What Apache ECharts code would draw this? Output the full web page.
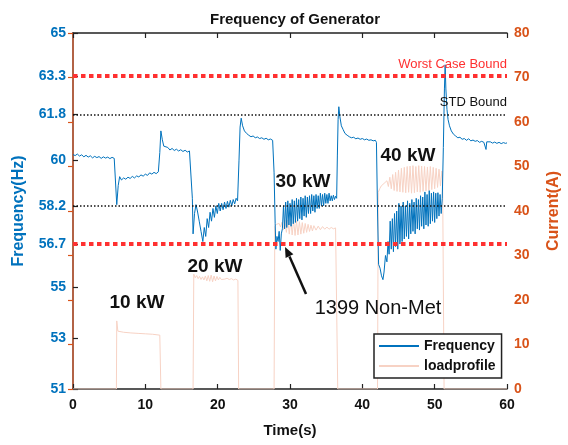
<!DOCTYPE html>
<html>
<head>
<meta charset="utf-8">
<script src="https://cdn.jsdelivr.net/npm/echarts@6/dist/echarts.min.js"></script>
<style>
html,body{margin:0;padding:0;background:#fff;}
#chart{width:568px;height:445px;}
</style>
</head>
<body>
<div id="chart"></div>
<script>
// ---- Data ----
const timeTicks = [0, 10, 20, 30, 40, 50, 60];
const freqTicks = [51, 53, 55, 56.7, 58.2, 60, 61.8, 63.3, 65];
const currentTicks = [0, 10, 20, 30, 40, 50, 60, 70, 80];
const worstCaseBounds = [63.3, 56.7];
const stdBounds = [61.8, 58.2];

// [time (s), frequency (Hz)]
const frequency = [
  [0,60.22],[0.3,60.18],[0.6,60.24],[0.9,60.16],[1.2,60.21],[1.5,60.13],[1.8,60.19],[2.1,60.12],[2.4,60.17],[2.7,60.09],
  [3.0,60.15],[3.3,60.1],[3.6,60.14],[3.9,60.07],[4.2,60.13],[4.5,60.08],[4.8,60.12],[5.1,60.06],[5.4,60.11],[5.7,60.07],[5.95,60.1],
  [6.05,58.25],[6.25,59.0],[6.45,59.35],[6.7,59.22],[7.0,59.3],[7.3,59.25],[7.6,59.33],[7.9,59.28],[8.2,59.36],[8.5,59.3],
  [8.8,59.38],[9.1,59.34],[9.4,59.42],[9.7,59.37],[10.0,59.45],[10.3,59.4],[10.6,59.5],[10.9,59.45],[11.2,59.52],[11.5,59.47],[11.8,59.54],
  [12.0,60.3],[12.15,61.15],[12.35,60.8],[12.55,60.55],[12.8,60.48],[13.1,60.5],[13.4,60.4],[13.7,60.46],[14.0,60.38],[14.3,60.43],
  [14.6,60.36],[14.9,60.41],[15.2,60.34],[15.5,60.39],[15.8,60.32],[16.1,60.36],[16.35,60.3],
  [16.5,58.5],[16.6,57.1],[16.8,57.9],[17.0,58.25],[17.2,58.0],[17.45,57.6],[17.7,57.2],[17.95,56.8],[18.15,57.35],[18.35,57.0],
  [18.55,57.7],[18.75,57.35],[18.95,57.95],[19.15,57.6],[19.35,58.1],[19.55,57.75],[19.75,58.2],[19.95,57.9],[20.15,58.3],[20.35,58.0],
  [20.55,58.3],[20.75,58.05],[20.95,58.35],[21.15,58.1],[21.35,58.38],[21.55,58.15],[21.75,58.42],[21.95,58.2],[22.15,58.45],[22.35,58.28],
  [22.55,58.5],[22.75,58.4],
  [22.95,60.0],[23.1,61.3],[23.25,61.65],[23.45,61.35],[23.7,61.15],[24.0,61.05],[24.3,60.98],[24.6,60.92],[24.9,60.95],[25.2,60.88],
  [25.5,60.91],[25.8,60.85],[26.1,60.88],[26.4,60.82],[26.7,60.86],[27.0,60.8],[27.3,60.83],[27.6,60.78],
  [27.8,59.5],[27.95,57.5],[28.05,56.5],[28.2,57.0],[28.35,56.8],[28.5,57.2],[28.65,56.45],[28.8,57.1],[28.95,57.3],[29.1,58.2],
  [29.25,57.3],[29.4,58.35],[29.55,57.35],[29.7,58.4],[29.85,57.45],[30.0,58.3],[30.15,57.4],[30.3,58.45],[30.45,57.5],[30.6,58.4],
  [30.75,57.55],[30.9,58.5],[31.05,57.6],[31.2,58.45],[31.35,57.7],[31.5,58.55],[31.65,57.65],[31.8,58.5],[31.95,57.8],[32.1,58.6],
  [32.25,57.75],[32.4,58.55],[32.55,57.9],[32.7,58.6],[32.85,57.9],[33.0,58.65],[33.15,58.0],[33.3,58.6],[33.45,57.95],[33.6,58.65],
  [33.75,58.1],[33.9,58.6],[34.05,58.1],[34.2,58.7],[34.35,58.2],[34.5,58.65],[34.65,58.2],[34.8,58.7],[34.95,58.3],[35.1,58.65],
  [35.25,58.3],[35.4,58.7],[35.55,58.4],[35.7,58.6],[35.85,58.4],[36.0,58.62],[36.15,58.45],[36.3,58.58],[36.45,58.5],
  [36.55,60.2],[36.65,61.6],[36.75,62.1],[36.9,61.7],[37.1,61.35],[37.35,61.2],[37.6,61.05],[37.9,60.98],[38.2,60.92],[38.5,60.88],
  [38.8,60.9],[39.1,60.84],[39.4,60.87],[39.7,60.82],[40.0,60.85],[40.3,60.8],[40.6,60.83],[40.9,60.78],[41.2,60.8],[41.5,60.76],
  [41.8,60.78],[41.95,60.7],
  [42.1,58.0],[42.25,55.9],[42.45,55.75],[42.65,55.45],[42.85,55.3],[43.0,55.6],[43.2,56.25],[43.4,56.0],[43.55,56.8],[43.7,56.3],
  [43.85,57.6],[44.0,56.5],[44.15,57.7],[44.3,56.4],[44.45,57.9],[44.6,56.6],[44.75,58.0],[44.9,56.5],[45.05,58.3],[45.2,56.7],
  [45.35,58.2],[45.5,56.8],[45.65,58.35],[45.8,56.9],[45.95,58.2],[46.1,57.0],[46.25,58.4],[46.4,56.9],[46.55,58.3],[46.7,57.1],
  [46.85,58.45],[47.0,57.2],[47.15,58.35],[47.3,57.1],[47.45,58.5],[47.6,57.3],[47.75,58.45],[47.9,57.25],[48.05,58.6],[48.2,57.4],
  [48.35,58.55],[48.5,57.3],[48.65,58.75],[48.8,57.45],[48.95,58.65],[49.1,57.4],[49.25,58.8],[49.4,57.5],[49.55,58.7],[49.7,57.6],
  [49.85,58.75],[50.0,57.55],[50.15,58.7],[50.3,57.7],[50.45,58.72],[50.6,57.8],[50.75,58.65],[50.9,57.9],[51.05,58.5],
  [51.2,60.5],[51.35,62.8],[51.45,63.75],[51.55,62.8],[51.7,62.0],[51.85,61.6],[52.05,61.35],[52.3,61.15],[52.6,61.02],[52.9,60.95],
  [53.2,60.88],[53.5,60.9],[53.8,60.82],[54.1,60.85],[54.4,60.78],[54.7,60.84],[55.0,60.76],[55.3,60.79],[55.6,60.74],[55.9,60.77],
  [56.2,60.7],[56.5,60.74],[56.8,60.7],[57.1,60.42],[57.2,60.72],[57.4,60.68],[57.7,60.72],[58.0,60.67],[58.3,60.71],[58.6,60.66],
  [58.9,60.7],[59.2,60.65],[59.5,60.69],[59.8,60.66],[60.0,60.68]
];

// [time (s), current (A)]
const loadprofile = [
  [0,0],[6.0,0],[6.05,15.3],[6.2,13.0],[6.4,12.8],[7,12.75],[8,12.6],[9,12.5],[10,12.4],[11,12.3],[12.0,12.1],[12.15,0],
  [16.6,0],[16.7,25.8],[16.9,25.0],[17.1,25.5],[17.3,24.8],[17.5,25.3],[17.7,24.6],[17.9,25.2],[18.1,24.5],[18.3,25.4],[18.5,24.3],
  [18.7,25.5],[18.9,24.2],[19.1,25.6],[19.3,24.1],[19.5,25.4],[19.7,24.3],[19.9,25.3],[20.1,24.5],[20.3,25.1],[20.5,24.6],[20.7,25.0],
  [21.0,24.7],[21.3,24.9],[21.6,24.6],[21.9,24.8],[22.2,24.5],[22.5,24.7],[22.8,24.4],[22.9,0],
  [27.8,0],[27.9,36.5],[28.1,37.0],[28.3,36.6],[28.5,37.2],[28.7,36.4],[28.9,37.5],[29.1,35.8],[29.3,37.9],[29.5,35.2],[29.7,38.0],
  [29.9,34.8],[30.1,38.1],[30.3,34.6],[30.5,38.0],[30.7,34.5],[30.9,37.8],[31.1,34.6],[31.3,37.6],[31.5,34.8],[31.7,37.4],[31.9,35.0],
  [32.1,37.2],[32.3,35.2],[32.5,37.0],[32.7,35.4],[32.9,36.8],[33.1,35.5],[33.3,36.7],[33.6,35.7],[33.9,36.6],[34.2,35.8],[34.5,36.5],
  [34.8,35.9],[35.1,36.4],[35.4,35.9],[35.7,36.3],[36.0,36.0],[36.3,36.2],[36.5,36.0],[36.6,0],
  [42.1,0],[42.2,44.2],[42.4,45.0],[42.6,45.6],[42.8,45.9],[43.0,46.2],[43.2,45.9],[43.4,46.8],[43.6,45.5],[43.8,47.6],[44.0,45.0],
  [44.2,48.2],[44.4,44.6],[44.6,48.7],[44.8,44.4],[45.0,49.2],[45.2,44.3],[45.4,49.6],[45.6,44.2],[45.8,49.8],[46.0,44.1],[46.2,50.0],
  [46.4,44.2],[46.6,50.1],[46.8,44.0],[47.0,50.2],[47.2,44.1],[47.4,50.0],[47.6,44.3],[47.8,50.2],[48.0,44.2],[48.2,50.1],[48.4,44.4],
  [48.6,50.0],[48.8,44.5],[49.0,49.9],[49.2,44.6],[49.4,50.0],[49.6,44.8],[49.8,49.8],[50.0,45.0],[50.2,49.6],[50.4,45.3],[50.6,49.4],
  [50.8,45.6],[51.0,49.0],[51.1,47.0],[51.3,0],[60,0]
];

const annotations = [
  {text: '10 kW', x: 137, y: 303},
  {text: '20 kW', x: 215, y: 267},
  {text: '30 kW', x: 303, y: 182},
  {text: '40 kW', x: 408, y: 156}
];

// ---- Chart ----
const FONT = '"Liberation Sans", Arial, sans-serif';
const BLUE = '#0072BD';
const ORANGE = '#D95319';
const LOADC = '#F7D2C4';
const chart = echarts.init(document.getElementById('chart'), null, {renderer: 'canvas'});

const boundLines = [];
worstCaseBounds.forEach((v, i) => boundLines.push({
  yAxis: v,
  lineStyle: {color: '#FF3030', type: [4.5, 3.5], width: 4},
  label: i === 0 ? {show: true, formatter: 'Worst Case Bound', position: 'insideEndTop', distance: [0, 5],
    color: '#FF3030', fontSize: 13, fontFamily: FONT} : {show: false}
}));
stdBounds.forEach((v, i) => boundLines.push({
  yAxis: v,
  lineStyle: {color: '#111', type: [1.5, 2], width: 1.5},
  label: i === 0 ? {show: true, formatter: 'STD Bound', position: 'insideEndTop', distance: [0, 5],
    color: '#111', fontSize: 13, fontFamily: FONT} : {show: false}
}));

const graphics = annotations.map(a => ({
  type: 'text', x: a.x, y: a.y, z: 100,
  style: {text: a.text, fill: '#111', font: 'bold 19px ' + FONT, textAlign: 'center', textVerticalAlign: 'middle'}
}));
graphics.push({
  type: 'text', x: 378, y: 308, z: 100,
  style: {text: '1399 Non-Met', fill: '#111', font: '20px ' + FONT, textAlign: 'center', textVerticalAlign: 'middle'}
});
graphics.push({
  type: 'line', z: 100, shape: {x1: 306, y1: 294, x2: 289.5, y2: 256.5},
  style: {stroke: '#111', lineWidth: 2.5}
});
graphics.push({
  type: 'polygon', z: 100, shape: {points: [[285, 247], [293.4, 254.2], [285.6, 258]]},
  style: {fill: '#111'}
});

const option = {
  animation: false,
  backgroundColor: '#fff',
  textStyle: {fontFamily: FONT},
  title: {
    text: 'Frequency of Generator', left: 290, top: 7, textAlign: 'center',
    textStyle: {fontFamily: FONT, fontSize: 15, fontWeight: 'bold', color: '#111'}
  },
  grid: {left: 73, right: 61, top: 33, bottom: 56, containLabel: false, outerBoundsMode: 'none'},
  legend: {
    orient: 'vertical', left: 374, top: 334,
    itemWidth: 40, itemHeight: 10, itemGap: 6,
    padding: [5, 6, 5, 4],
    borderColor: '#222', borderWidth: 1.5, backgroundColor: '#fff',
    itemStyle: {opacity: 0},
    textStyle: {fontFamily: FONT, fontWeight: 'bold', fontSize: 14, color: '#111'},
    data: ['Frequency', 'loadprofile']
  },
  xAxis: [{
    type: 'value', min: timeTicks[0], max: timeTicks[timeTicks.length - 1], interval: 10,
    axisLine: {lineStyle: {color: '#222', width: 1.5}},
    axisTick: {inside: true, length: 5, lineStyle: {color: '#222', width: 1.2}},
    axisLabel: {color: '#111', fontWeight: 'bold', fontSize: 14, fontFamily: FONT, margin: 9},
    splitLine: {show: false},
    name: 'Time(s)', nameLocation: 'middle', nameGap: 34,
    nameTextStyle: {color: '#111', fontWeight: 'bold', fontSize: 15, fontFamily: FONT}
  }, {
    type: 'value', position: 'top', min: timeTicks[0], max: timeTicks[timeTicks.length - 1], interval: 10,
    axisLine: {lineStyle: {color: '#222', width: 1.5}},
    axisTick: {inside: true, length: 5, lineStyle: {color: '#222', width: 1.2}},
    axisLabel: {show: false}, splitLine: {show: false}
  }],
  yAxis: [{
    type: 'value', position: 'left', min: freqTicks[0], max: freqTicks[freqTicks.length - 1],
    axisLine: {show: true, lineStyle: {color: BLUE, width: 1.5}},
    axisTick: {show: true, inside: true, length: 5, customValues: freqTicks, lineStyle: {color: '#222', width: 1.2}},
    axisLabel: {customValues: freqTicks, color: BLUE, fontWeight: 'bold', fontSize: 14, fontFamily: FONT, margin: 7},
    splitLine: {show: false},
    name: 'Frequency(Hz)', nameLocation: 'middle', nameGap: 46,
    nameTextStyle: {color: BLUE, fontWeight: 'bold', fontSize: 16, fontFamily: FONT}
  }, {
    type: 'value', position: 'right', min: currentTicks[0], max: currentTicks[currentTicks.length - 1], interval: 10,
    axisLine: {show: true, lineStyle: {color: ORANGE, width: 1.5}},
    axisTick: {show: true, inside: true, length: 5, lineStyle: {color: ORANGE, width: 1.2}},
    axisLabel: {color: ORANGE, fontWeight: 'bold', fontSize: 14, fontFamily: FONT, margin: 7},
    splitLine: {show: false},
    name: 'Current(A)', nameLocation: 'middle', nameGap: 39,
    nameTextStyle: {color: ORANGE, fontWeight: 'bold', fontSize: 16, fontFamily: FONT}
  }],
  series: [{
    name: 'loadprofile', type: 'line', xAxisIndex: 0, yAxisIndex: 1,
    data: loadprofile, symbol: 'none', z: 2,
    lineStyle: {color: LOADC, width: 1}, itemStyle: {color: LOADC}
  }, {
    name: 'Frequency', type: 'line', xAxisIndex: 0, yAxisIndex: 0,
    data: frequency, symbol: 'none', z: 3,
    lineStyle: {color: BLUE, width: 1}, itemStyle: {color: BLUE},
    markLine: {silent: true, symbol: 'none', animation: false, data: boundLines}
  }],
  graphic: graphics
};
chart.setOption(option);
</script>
</body>
</html>
